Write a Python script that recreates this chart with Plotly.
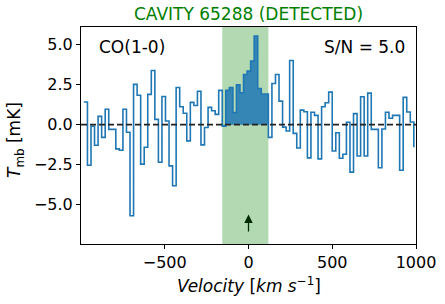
import plotly.graph_objects as go

# ---------------- data ----------------
velocity = [
    -982.7, -961.5, -940.3, -919.2, -898.0, -876.8, -855.6, -834.4, -813.3, -792.1,
    -770.9, -749.7, -728.5, -707.4, -686.2, -665.0, -643.8, -622.6, -601.5, -580.3,
    -559.1, -537.9, -516.7, -495.6, -474.4, -453.2, -432.0, -410.8, -389.7, -368.5,
    -347.3, -326.1, -304.9, -283.8, -262.6, -241.4, -220.2, -199.0, -177.9, -156.7,
    -135.5, -114.3, -93.1, -72.0, -50.8, -29.6, -8.4, 12.8, 33.9, 55.1,
    76.3, 97.5, 118.7, 139.8, 161.0, 182.2, 203.4, 224.6, 245.7, 266.9,
    288.1, 309.3, 330.5, 351.6, 372.8, 394.0, 415.2, 436.4, 457.5, 478.7,
    499.9, 521.1, 542.3, 563.4, 584.6, 605.8, 627.0, 648.2, 669.3, 690.5,
    711.7, 732.9, 754.1, 775.2, 796.4, 817.6, 838.8, 860.0, 881.1, 902.3,
    923.5, 944.7, 965.9, 987.0,
]
tmb = [
    1.41, -2.53, -0.10, -1.28, 0.52, -0.79, 0.96, -0.29, -0.29, -1.51,
    -1.59, 0.96, -0.47, -5.68, 2.51, 1.83, -2.46, -1.41, 1.89, 3.38,
    0.33, -2.34, 1.76, 0.23, -2.57, -3.81, 2.32, 1.12, 0.71, -1.01,
    1.39, 1.20, 2.08, -1.26, -0.18, 1.08, 0.87, 0.64, 2.14, -0.10,
    2.14, 2.32, 0.75, 2.49, 1.99, 3.13, 3.34, 3.96, 5.52, 2.26,
    1.91, 1.91, -0.79, 2.57, 3.13, 1.47, -0.15, -0.39, 4.00, -0.54,
    -1.45, 0.91, 0.81, -2.07, 0.77, 0.58, -2.13, 1.12, 1.37, 2.03,
    -1.64, -0.50, -2.09, -1.84, 0.15, -2.96, 0.69, -1.95, 1.74, -1.95,
    1.97, -0.29, -0.29, -2.69, -0.27, 0.77, 0.40, 0.58, 0.58, -2.84,
    1.70, 0.79, 0.17, -1.41,
]
detect_window = [-156.7, 118.7]   # km/s, detection integration window
line_velocity = 0.0               # systemic velocity (arrow)
arrow_span = [-6.75, -5.6]        # mK, arrow tail / head
title_text = "CAVITY 65288 (DETECTED)"
line_label = "CO(1-0)"
snr_label = "S/N = 5.0"
x_ticks = [-500, 0, 500, 1000]
x_ticktext = ["\u2212500", "0", "500", "1000"]
y_ticks = [-5.0, -2.5, 0.0, 2.5, 5.0]
y_ticktext = ["\u22125.0", "\u22122.5", "0.0", "2.5", "5.0"]
x_range = [-1000, 1000]
y_range = [-7.44, 6.09]

# ---------------- figure ----------------
FONT = "DejaVu Sans"
C0 = "#1f77b4"

in_win = [detect_window[0] <= v <= detect_window[1] for v in velocity]
v_fill = [v for v, m in zip(velocity, in_win) if m]
t_fill = [t for t, m in zip(tmb, in_win) if m]

fig = go.Figure()
fig.add_trace(go.Scatter(
    x=v_fill, y=t_fill, mode="lines",
    line=dict(shape="hv", width=0, color=C0),
    fill="tozeroy", fillcolor="rgba(31,119,180,0.85)",
    hoverinfo="skip", showlegend=False,
))
fig.add_trace(go.Scatter(
    x=velocity, y=tmb, mode="lines",
    line=dict(shape="hv", width=1.6, color=C0),
    showlegend=False,
))

fig.add_vrect(x0=detect_window[0], x1=detect_window[1],
              fillcolor="rgb(179,217,179)", opacity=1, layer="below", line_width=0)
fig.add_hline(y=0, line=dict(color="#222222", dash="6px,3px", width=1.6))

axis_common = dict(
    showline=True, linecolor="black", linewidth=1, mirror=True,
    ticks="outside", ticklen=4, tickwidth=1, tickcolor="black",
    showgrid=False, zeroline=False, automargin=False,
    tickfont=dict(family=FONT, size=16, color="black"),
)
fig.update_xaxes(range=x_range, tickvals=x_ticks, ticktext=x_ticktext, **axis_common)
fig.update_yaxes(range=y_range, tickvals=y_ticks, ticktext=y_ticktext, **axis_common)

plot_h = 304 - 27 - 60
plot_w = 445 - 81 - 29

fig.add_annotation(text=title_text, xref="paper", yref="paper", x=0.5,
                   y=1 + (27 - 14) / plot_h, xanchor="center", yanchor="middle",
                   showarrow=False, font=dict(family=FONT, size=17, color="green"))
fig.add_annotation(text=line_label, xref="paper", yref="paper",
                   x=(97 - 81) / plot_w, y=(244 - 47) / plot_h,
                   xanchor="left", yanchor="middle", showarrow=False,
                   font=dict(family=FONT, size=17, color="black"))
fig.add_annotation(text=snr_label, xref="paper", yref="paper",
                   x=(407 - 81) / plot_w, y=(244 - 47) / plot_h,
                   xanchor="right", yanchor="middle", showarrow=False,
                   font=dict(family=FONT, size=17, color="black"))
fig.add_annotation(text="<i>Velocity</i> [<i>km s</i><sup>\u22121</sup>]",
                   xref="paper", yref="paper", x=0.5, y=(244 - 285) / plot_h,
                   xanchor="center", yanchor="middle", showarrow=False,
                   font=dict(family=FONT, size=17, color="black"))
fig.add_annotation(text="<i>T</i><sub>mb</sub> [mK]",
                   xref="paper", yref="paper", x=(15 - 81) / plot_w, y=(244 - 140) / plot_h,
                   xanchor="center", yanchor="middle", textangle=-90, showarrow=False,
                   font=dict(family=FONT, size=17, color="black"))
fig.add_annotation(x=line_velocity, y=arrow_span[1], ax=line_velocity, ay=arrow_span[0],
                   xref="x", yref="y", axref="x", ayref="y", text="",
                   showarrow=True, arrowhead=2, arrowsize=1.3, arrowwidth=1.3,
                   arrowcolor="#002a00")

fig.update_layout(
    width=445, height=304,
    margin=dict(l=81, r=29, t=27, b=60),
    plot_bgcolor="white", paper_bgcolor="white",
    font=dict(family=FONT, color="black"),
)

fig.write_html("out.html",
               config={"displayModeBar": False},
               post_script="document.body.style.margin='0';document.body.style.padding='0';")
